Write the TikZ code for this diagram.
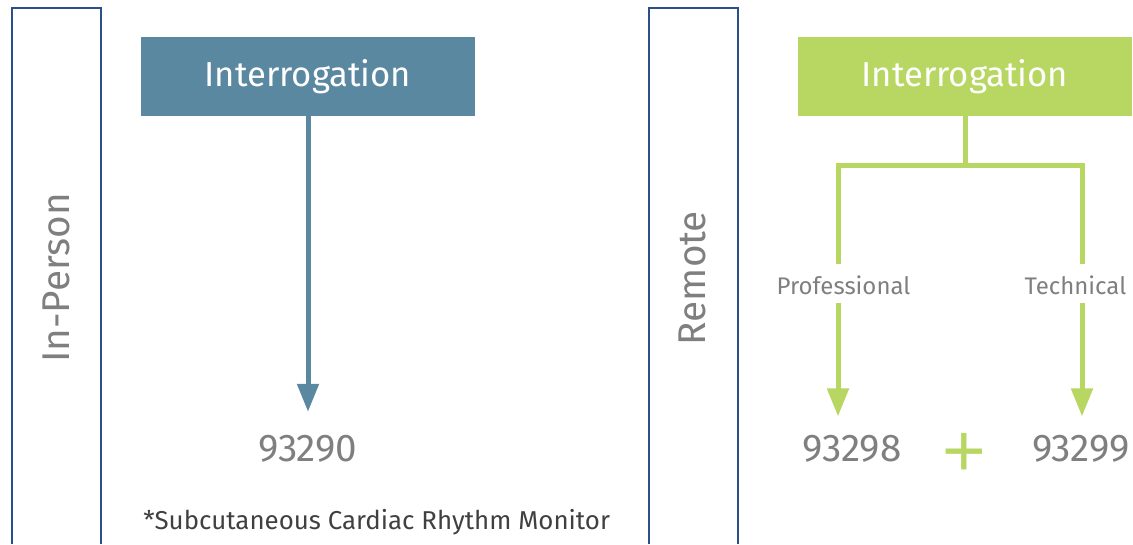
\documentclass[tikz,border=0pt]{standalone}
\usepackage{fontspec}
\setmainfont{Fira Sans}
\newfontfamily\plusfont{Liberation Sans}
\usetikzlibrary{arrows.meta}

\definecolor{framecol}{HTML}{2B5087}
\definecolor{steel}{HTML}{5B88A1}
\definecolor{lime}{HTML}{B8D762}
\definecolor{codegray}{HTML}{7F7F7F}
\definecolor{notegray}{HTML}{404040}

\tikzset{
  panel/.style={draw=framecol, line width=1.5pt},
  headbox/.style={minimum width=250.5pt, minimum height=59.25pt, inner sep=0pt,
    text=white, font=\fontsize{26}{30}\selectfont},
  sidelabel/.style={rotate=90, text=codegray, font=\fontsize{29}{34}\selectfont},
  code/.style={anchor=base, inner sep=0pt, text=codegray, font=\fontsize{29}{32}\selectfont},
  branchlabel/.style={anchor=base, inner sep=0pt, text=codegray, font=\fontsize{18}{20}\selectfont},
  link/.style={line width=3.75pt},
  linkarrow/.style={link, -{Triangle[width=15.75pt,length=21pt]}}
}

\begin{document}
\begin{tikzpicture}[x=0.75pt,y=-0.75pt]
\useasboundingbox (0,0) rectangle (1133,544);

% in-person
\draw[panel] (12,544) -- (12,8) -- (101,8) -- (101,544);
\node[sidelabel] (inperson) at (56.5,278) {In-Person};
\node[headbox, fill=steel] (intA) at (308,76.5) {Interrogation};
\node[code] (codeA) at (308,461) {93290};
\draw[linkarrow, steel, shorten >=17pt] (intA) -- (codeA.north);
\node[anchor=base west, inner sep=0pt, text=notegray, font=\fontsize{19.4}{24}\selectfont] (note) at (143,529) {*Subcutaneous Cardiac Rhythm Monitor};

% remote
\draw[panel] (649,544) -- (649,8) -- (738,8) -- (738,544);
\node[sidelabel] (remote) at (692,278) {Remote};
\node[headbox, fill=lime] (intB) at (965,76.5) {Interrogation};
\coordinate (fork) at (965,165);
\coordinate (forkL) at (838,165);
\coordinate (forkR) at (1082,165);
\node[branchlabel] (prof) at (843.5,294) {Professional};
\node[branchlabel] (tech) at (1075.5,294) {Technical};
\node[code] (codeB) at (852,461) {93298};
\node[code] (codeC) at (1081,461) {93299};
\node[text=lime, inner sep=0pt, font=\plusfont\fontsize{56}{56}\selectfont] (plus) at (964,455) {+};

\draw[link, lime] (intB) -- (fork);
\draw[link, lime, shorten <=8pt, shorten >=8pt] (forkL |- prof.north) -- (forkL) -- (forkR) -- (forkR |- tech.north);
\draw[linkarrow, lime, shorten <=6pt, shorten >=13.5pt] (forkL |- prof.south) -- (forkL |- codeB.north);
\draw[linkarrow, lime, shorten <=6pt, shorten >=13.5pt] (forkR |- tech.south) -- (forkR |- codeC.north);
\end{tikzpicture}
\end{document}
